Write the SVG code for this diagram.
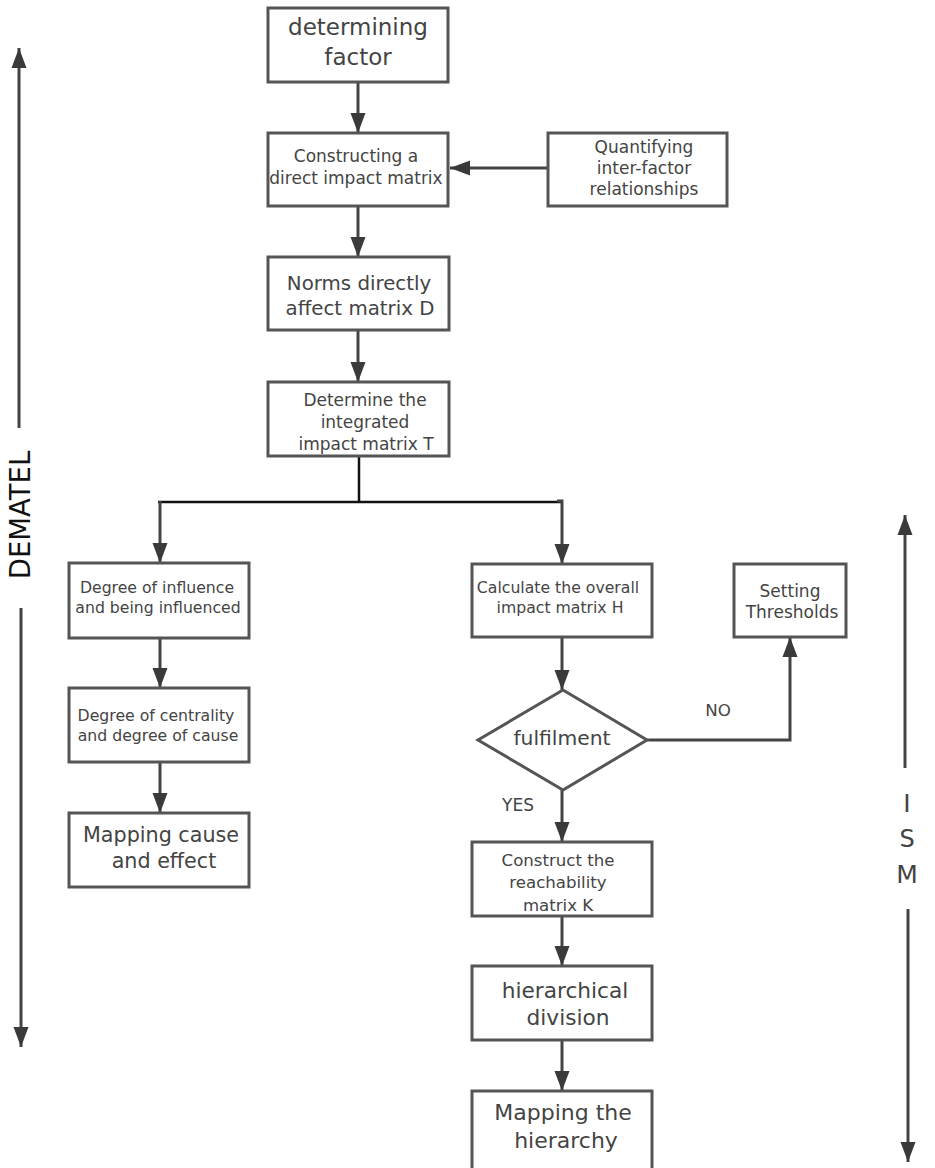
<svg xmlns="http://www.w3.org/2000/svg" width="935" height="1168" viewBox="0 0 935 1168">
<defs>
<style>
.box{fill:#fff;stroke:#555;stroke-width:3}
.t{font-family:"DejaVu Sans","Open Sans",sans-serif;fill:#444;text-anchor:middle}
.c{fill:none;stroke:#444;stroke-width:3}
.k{fill:none;stroke:#111;stroke-width:2.5}
</style>
<marker id="ah" markerUnits="userSpaceOnUse" markerWidth="20" markerHeight="16" refX="20" refY="8" orient="auto">
<path d="M0,0.5 L20,8 L0,15.5 z" fill="#3a3a3a"/>
</marker>
</defs>
<rect width="935" height="1168" fill="#fff"/>

<g id="connectors">
<line class="c" x1="358" y1="82" x2="358" y2="133" marker-end="url(#ah)"/>
<line class="c" x1="548" y1="168" x2="450" y2="168" marker-end="url(#ah)"/>
<line class="c" x1="358" y1="206" x2="358" y2="257" marker-end="url(#ah)"/>
<line class="c" x1="358" y1="330" x2="358" y2="382" marker-end="url(#ah)"/>
<line class="k" x1="359" y1="456" x2="359" y2="502"/>
<line class="k" x1="158" y1="502" x2="561" y2="502"/>
<line class="c" x1="160" y1="501" x2="160" y2="563" marker-end="url(#ah)"/>
<path class="c" d="M557,501 H562 V564" marker-end="url(#ah)"/>
<line class="c" x1="160" y1="638" x2="160" y2="688" marker-end="url(#ah)"/>
<line class="c" x1="160" y1="762" x2="160" y2="813" marker-end="url(#ah)"/>
<line class="c" x1="562" y1="637" x2="562" y2="690" marker-end="url(#ah)"/>
<line class="c" x1="562" y1="790" x2="562" y2="842" marker-end="url(#ah)"/>
<path class="c" d="M647,740 H790 V637" marker-end="url(#ah)"/>
<line class="c" x1="562" y1="916" x2="562" y2="966" marker-end="url(#ah)"/>
<line class="c" x1="562" y1="1040" x2="562" y2="1091" marker-end="url(#ah)"/>
<line class="c" x1="19" y1="428" x2="19" y2="48" marker-end="url(#ah)"/>
<line class="c" x1="21" y1="608" x2="21" y2="1047" marker-end="url(#ah)"/>
<line class="c" x1="905" y1="768" x2="905" y2="515" marker-end="url(#ah)"/>
<line class="c" x1="908" y1="909" x2="908" y2="1162" marker-end="url(#ah)"/>
</g>

<g id="label-dematel">
<text class="t" transform="translate(30,515) rotate(-90)" font-size="27.5" style="fill:#111">DEMATEL</text>
</g>
<g id="label-ism">
<text class="t" x="907" y="812" font-size="25">I</text>
<text class="t" x="907" y="847" font-size="24">S</text>
<text class="t" x="907" y="883" font-size="25">M</text>
</g>

<g id="n1">
<rect class="box" x="268" y="8" width="180" height="74"/>
<text class="t" x="358" y="35" font-size="23">determining</text>
<text class="t" x="358" y="65" font-size="23">factor</text>
</g>
<g id="n2">
<rect class="box" x="268" y="133" width="180" height="73"/>
<text class="t" x="356" y="162" font-size="17">Constructing a</text>
<text class="t" x="356" y="184" font-size="17">direct impact matrix</text>
</g>
<g id="n-quant">
<rect class="box" x="548" y="133" width="179" height="73"/>
<text class="t" x="644" y="153" font-size="17">Quantifying</text>
<text class="t" x="644" y="174" font-size="17">inter-factor</text>
<text class="t" x="644" y="195" font-size="17">relationships</text>
</g>
<g id="n3">
<rect class="box" x="268" y="257" width="181" height="73"/>
<text class="t" x="359" y="290" font-size="19.8">Norms directly</text>
<text class="t" x="360" y="315" font-size="19.8">affect matrix D</text>
</g>
<g id="n4">
<rect class="box" x="268" y="382" width="181" height="74"/>
<text class="t" x="365" y="406" font-size="17">Determine the</text>
<text class="t" x="365" y="428" font-size="17">integrated</text>
<text class="t" x="366" y="450" font-size="17">impact matrix T</text>
</g>
<g id="n-l1">
<rect class="box" x="69" y="563" width="180" height="75"/>
<text class="t" x="157" y="593" font-size="15.7">Degree of influence</text>
<text class="t" x="158" y="613" font-size="15.7">and being influenced</text>
</g>
<g id="n-l2">
<rect class="box" x="69" y="688" width="180" height="74"/>
<text class="t" x="156" y="721" font-size="15.7">Degree of centrality</text>
<text class="t" x="158" y="741" font-size="15.7">and degree of cause</text>
</g>
<g id="n-l3">
<rect class="box" x="69" y="813" width="180" height="74"/>
<text class="t" x="161" y="842" font-size="20.7">Mapping cause</text>
<text class="t" x="164" y="868" font-size="20.7">and effect</text>
</g>
<g id="n-r1">
<rect class="box" x="472" y="564" width="180" height="73"/>
<text class="t" x="558" y="593" font-size="15.7">Calculate the overall</text>
<text class="t" x="560" y="613" font-size="15.7">impact matrix H</text>
</g>
<g id="n-thr">
<rect class="box" x="734" y="564" width="112" height="73"/>
<text class="t" x="790" y="597" font-size="17">Setting</text>
<text class="t" x="792" y="618" font-size="17">Thresholds</text>
</g>
<g id="n-dia">
<polygon class="box" points="563,690 647,740 563,790 478,740"/>
<text class="t" x="562" y="745" font-size="20.3">fulfilment</text>
</g>
<g id="labels">
<text class="t" x="718" y="716" font-size="16.7">NO</text>
<text class="t" x="518" y="811" font-size="17">YES</text>
</g>
<g id="n-r2">
<rect class="box" x="472" y="842" width="180" height="74"/>
<text class="t" x="558" y="866" font-size="16.6">Construct the</text>
<text class="t" x="558" y="888" font-size="16.6">reachability</text>
<text class="t" x="558" y="911" font-size="16.6">matrix K</text>
</g>
<g id="n-r3">
<rect class="box" x="472" y="966" width="180" height="74"/>
<text class="t" x="565" y="998" font-size="21.7">hierarchical</text>
<text class="t" x="568" y="1025" font-size="21.7">division</text>
</g>
<g id="n-r4">
<rect class="box" x="472" y="1091" width="180" height="90"/>
<text class="t" x="563" y="1120" font-size="22">Mapping the</text>
<text class="t" x="566" y="1148" font-size="22">hierarchy</text>
</g>
</svg>
